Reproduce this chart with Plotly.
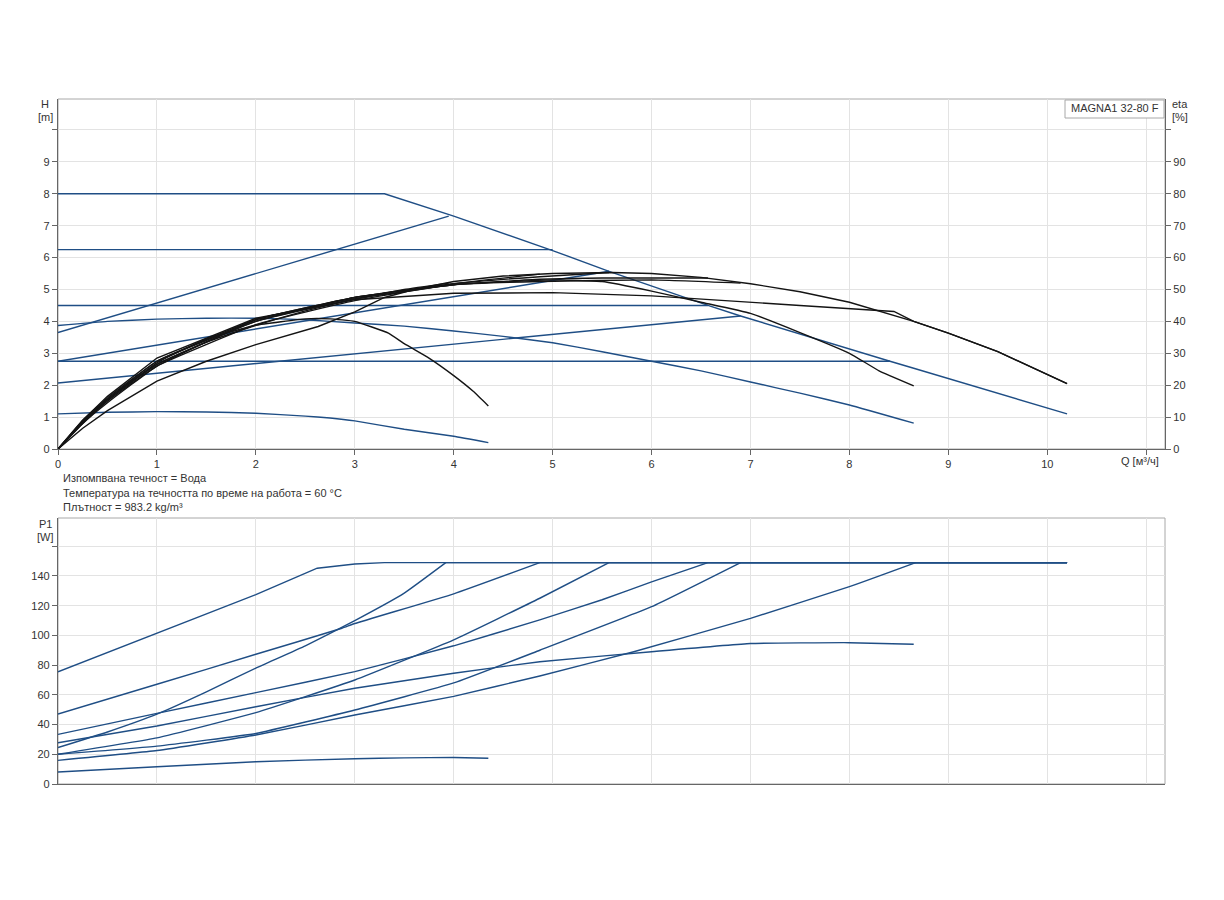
import plotly.graph_objects as go

# ---- H curves (blue, left axis) [m] vs Q [m3/h]
q_max = [0, 3.3, 4, 5, 5.57, 6, 6.57, 6.9, 7.5, 8, 8.41, 8.65, 9, 9.5, 10.2]
h_max = [8, 8, 7.3, 6.22, 5.57, 5.1, 4.5, 4.17, 3.6, 3.12, 2.75, 2.53, 2.21, 1.74, 1.1]

q_pp1 = [0, 3.95]
h_pp1 = [3.65, 7.3]
q_pp2 = [0, 5.57]
h_pp2 = [2.75, 5.57]
q_pp3 = [0, 6.9]
h_pp3 = [2.07, 4.17]

q_cp625 = [0, 5.0]
h_cp625 = [6.25, 6.25]
q_cp45 = [0, 6.57]
h_cp45 = [4.5, 4.5]
q_cp275 = [0, 8.41]
h_cp275 = [2.75, 2.75]

q_ca = [0, 0.5, 1, 1.5, 2, 2.5, 3, 3.5, 4, 4.5, 5, 5.5, 6, 6.5, 7, 7.5, 8, 8.65]
h_ca = [3.87, 4.0, 4.07, 4.1, 4.1, 4.05, 3.95, 3.85, 3.7, 3.53, 3.33, 3.05, 2.75, 2.45, 2.1, 1.75, 1.38, 0.81]

q_cb = [0, 0.5, 1, 1.5, 2, 2.5, 2.75, 3, 3.5, 4, 4.35]
h_cb = [1.1, 1.15, 1.17, 1.16, 1.12, 1.03, 0.97, 0.88, 0.62, 0.4, 0.2]

# ---- eta curves (black, right axis) [%]
q_eta_max = [0, 0.25, 0.5, 1, 1.5, 2, 2.63, 3.0, 3.3, 3.6, 4, 4.5, 5, 5.6, 6, 6.5, 7, 7.5, 8, 8.65, 9, 9.5, 10.2]
eta_max = [0, 6.5, 12, 21.3, 27.5, 32.7, 38.4, 43, 47.5, 50, 52.5, 54.2, 55, 55.3, 55, 53.8, 51.8, 49.3, 46, 40, 36.3, 30.5, 20.5]

q_eta_pp1 = [0, 0.25, 0.5, 1, 1.5, 2, 2.5, 3, 3.5, 3.95]
eta_pp1 = [0, 8.5, 15.5, 26.5, 33.5, 38.8, 43.3, 47, 50, 52]
q_eta_pp2 = [0, 0.25, 0.5, 1, 2, 3, 4, 4.87, 5.57]
eta_pp2 = [0, 8.5, 15.5, 27.5, 40.5, 47.5, 51.8, 54, 55.3]
q_eta_pp3 = [0, 0.25, 0.5, 1, 2, 3, 4, 4.87, 6, 6.9]
eta_pp3 = [0, 8, 14.5, 26, 40.5, 47.5, 51.5, 52.5, 53, 52]

q_eta_cp625 = [0, 0.25, 0.5, 1, 2, 3, 4, 4.87]
eta_cp625 = [0, 8, 15, 26, 39, 46.5, 51.8, 54.8]
q_eta_cp45 = [0, 0.25, 0.5, 1, 2, 3, 4, 4.87, 5.5, 6, 6.57]
eta_cp45 = [0, 8.5, 15.5, 26.5, 40, 47.5, 51.5, 53.2, 53.6, 53.6, 53.6]
q_eta_cp275 = [0, 0.25, 0.5, 1, 2, 3, 4, 5, 6, 6.8, 7.5, 8.45, 8.65, 9, 9.5, 10.2]
eta_cp275 = [0, 9, 16.5, 28.5, 41, 46.8, 48.8, 49, 48, 46.3, 45, 43.1, 40, 36.3, 30.5, 20.5]

q_eta_ca = [0, 0.25, 0.5, 1, 2, 3, 4, 5, 5.5, 6, 6.5, 7, 7.5, 8, 8.3, 8.65]
eta_ca = [0, 9, 16, 27.5, 40, 47, 51.5, 53, 52.5, 49.5, 46, 42.5, 36.5, 30, 24.5, 19.8]
q_eta_cb = [0, 0.25, 0.5, 1, 1.5, 2, 2.5, 2.75, 3, 3.34, 3.5, 3.75, 4, 4.2, 4.35]
eta_cb = [0, 8.5, 15.5, 27, 34.5, 38.8, 40.8, 40.8, 40, 36.3, 33, 28.5, 23, 18, 13.5]

# ---- P1 curves (blue, lower chart) [W]
p_limit = 149
q_p_end = 10.2
q_p_max = [0, 1, 2, 2.62, 3.0, 3.3, 10.2]
p_max = [75.5, 101.5, 127.5, 145.2, 148, 149, 149]
q_p_pp1 = [0, 0.5, 1, 1.5, 2, 2.5, 3, 3.5, 3.92]
p_pp1 = [24.5, 35, 47, 62, 78, 93, 110, 128.5, 149]
q_p_pp2 = [0, 1, 2, 3, 4, 4.87, 5.57]
p_pp2 = [20, 31, 48, 70, 97, 125, 149]
q_p_pp3 = [0, 1, 2, 3, 4, 4.87, 6, 6.9]
p_pp3 = [20, 25.5, 34, 49.8, 68, 90, 119.3, 149]
q_p_cp625 = [0, 1, 2, 2.87, 3, 4, 4.87]
p_cp625 = [47.1, 67.1, 87.3, 104.8, 108, 128, 149]
q_p_cp45 = [0, 1, 2, 3, 4, 4.87, 5.5, 6, 6.57]
p_cp45 = [33.4, 47.5, 61.5, 75.6, 93, 110.4, 124, 136, 149]
q_p_cp275 = [0, 1, 2, 3, 4, 4.87, 5.82, 7, 8, 8.67]
p_cp275 = [15.9, 22.5, 33, 46.4, 59, 72.7, 89, 111.5, 132.8, 149]
q_p_ca = [0, 1, 2, 3, 4, 4.87, 6, 7, 8, 8.65]
p_ca = [27.8, 39, 52, 64.4, 74.5, 82.3, 89, 94.5, 95.1, 94]
q_p_cb = [0, 1, 2, 3, 3.5, 4, 4.35]
p_cb = [8.1, 11.6, 15, 17, 17.6, 17.8, 17.3]

# ---- axis ticks
q_ticks = list(range(0, 12))
q_labels = [str(v) for v in range(0, 11)] + ['']
h_ticks = list(range(0, 11))
h_labels = [str(v) for v in range(0, 10)] + ['']
eta_ticks = list(range(0, 101, 10))
eta_labels = [str(v) for v in range(0, 91, 10)] + ['']
p_ticks = list(range(0, 161, 20))
p_labels = [str(v) for v in range(0, 141, 20)] + ['']

info_lines = ['Изпомпвана течност = Вода',
              'Температура на течността по време на работа = 60 °C',
              'Плътност = 983.2 kg/m³']

BLUE = '#1f4e85'
BLACK = '#141414'
FONT = 'Liberation Sans, Arial, sans-serif'
LW = 1.4

# page geometry in window pixels (the page body adds an 8px offset)
OFF = 8
W, H = 1224 - OFF, 900 - OFF
PLOT_L, PLOT_R, PLOT_T, PLOT_B = 58, 1165, 99, 784
ML, MR, MT, MB = PLOT_L - OFF, 1224 - PLOT_R, PLOT_T - OFF, 900 - PLOT_B
PW, PH = PLOT_R - PLOT_L, PLOT_B - PLOT_T


def px(x, y):
    return (x - PLOT_L) / PW, (PLOT_B - y) / PH


top_dom = [(PLOT_B - 449) / PH, 1]
bot_dom = [0, (PLOT_B - 518) / PH]

fig = go.Figure()


def line(qq, vv, xa, ya, color, smooth=True, width=LW):
    shape = dict(shape='spline', smoothing=0.35) if smooth else dict(shape='linear')
    fig.add_trace(go.Scatter(x=qq, y=vv, mode='lines', xaxis=xa, yaxis=ya, hoverinfo='skip',
                             line=dict(color=color, width=width, **shape)))


# H curves
line(q_max, h_max, 'x', 'y', BLUE, smooth=False)
for qq, hh in [(q_pp1, h_pp1), (q_pp2, h_pp2), (q_pp3, h_pp3),
               (q_cp625, h_cp625), (q_cp45, h_cp45), (q_cp275, h_cp275)]:
    line(qq, hh, 'x', 'y', BLUE, smooth=False)
line(q_ca, h_ca, 'x', 'y', BLUE)
line(q_cb, h_cb, 'x', 'y', BLUE)

# eta curves
line(q_eta_max, eta_max, 'x', 'y2', BLACK, smooth=False)
line(q_eta_cp275, eta_cp275, 'x', 'y2', BLACK, smooth=False)
for qq, ee in [(q_eta_pp1, eta_pp1), (q_eta_pp2, eta_pp2), (q_eta_pp3, eta_pp3),
               (q_eta_cp625, eta_cp625), (q_eta_cp45, eta_cp45),
               (q_eta_ca, eta_ca), (q_eta_cb, eta_cb)]:
    line(qq, ee, 'x', 'y2', BLACK)

# P1 curves
line(q_p_max, p_max, 'x2', 'y3', BLUE, smooth=False)
for qq, pp in [(q_p_pp1, p_pp1), (q_p_pp2, p_pp2), (q_p_pp3, p_pp3),
               (q_p_cp625, p_cp625), (q_p_cp45, p_cp45), (q_p_cp275, p_cp275)]:
    line(qq, pp, 'x2', 'y3', BLUE)
    # each curve runs on along the power limit
    line([qq[-1], q_p_end], [p_limit, p_limit], 'x2', 'y3', BLUE, smooth=False)
line(q_p_ca, p_ca, 'x2', 'y3', BLUE)
line(q_p_cb, p_cb, 'x2', 'y3', BLUE)

axis_common = dict(showline=True, linecolor='#666', linewidth=1.2, ticks='outside',
                   ticklen=5, tickcolor='#666', zeroline=False,
                   tickfont=dict(family=FONT, size=11, color='#333'))
grid = dict(showgrid=True, gridcolor='#e3e3e3', gridwidth=1)

fig.update_layout(
    width=W, height=H, showlegend=False,
    margin=dict(l=ML, r=MR, t=MT, b=MB),
    paper_bgcolor='white', plot_bgcolor='white',
    font=dict(family=FONT, size=11, color='#333'),
    xaxis=dict(domain=[0, 1], anchor='y', range=[0, 11.19], tickmode='array',
               tickvals=q_ticks, ticktext=q_labels, **grid, **axis_common),
    yaxis=dict(domain=top_dom, anchor='x', range=[0, 10.97], tickmode='array',
               tickvals=h_ticks, ticktext=h_labels, **grid, **axis_common),
    yaxis2=dict(overlaying='y', side='right', anchor='x', range=[0, 109.7],
                tickmode='array', tickvals=eta_ticks, ticktext=eta_labels,
                showgrid=False, **axis_common),
    xaxis2=dict(domain=[0, 1], anchor='y3', range=[0, 11.19], tickmode='array',
                tickvals=q_ticks, showticklabels=False, showline=True, linecolor='#666',
                linewidth=1.2, zeroline=False, **grid),
    yaxis3=dict(domain=bot_dom, anchor='x2', range=[0, 179], tickmode='array',
                tickvals=p_ticks, ticktext=p_labels, **grid, **axis_common),
)

# light grey frames round both plots
for dom in (top_dom, bot_dom):
    fig.add_shape(type='rect', xref='paper', yref='paper', x0=0, x1=1, y0=dom[0], y1=dom[1],
                  line=dict(color='#a8a8a8', width=1), layer='below')

# product label box
bx0, by0 = px(1065, 100)
bx1, by1 = px(1164, 118)
fig.add_shape(type='rect', xref='paper', yref='paper', x0=bx0, x1=bx1, y0=by1, y1=by0,
              line=dict(color='#a8a8a8', width=1), fillcolor='white')


def label(text, x, y, xanchor='center', size=11):
    ax, ay = px(x, y)
    fig.add_annotation(text=text, x=ax, y=ay, xref='paper', yref='paper', showarrow=False,
                       xanchor=xanchor, yanchor='middle',
                       font=dict(family=FONT, size=size, color='#333'))


label('MAGNA1 32-80 F', 1069, 108, 'left')
label('H', 45, 104)
label('[m]', 45, 117)
label('eta', 1180, 104)
label('[%]', 1180, 117)
label('Q [м³/ч]', 1140, 461)
label('P1', 45, 524)
label('[W]', 45, 537)
for i, t in enumerate(info_lines):
    label(t, 61, 478 + i * 14.5, 'left', 11)

fig.write_html("out.html")
